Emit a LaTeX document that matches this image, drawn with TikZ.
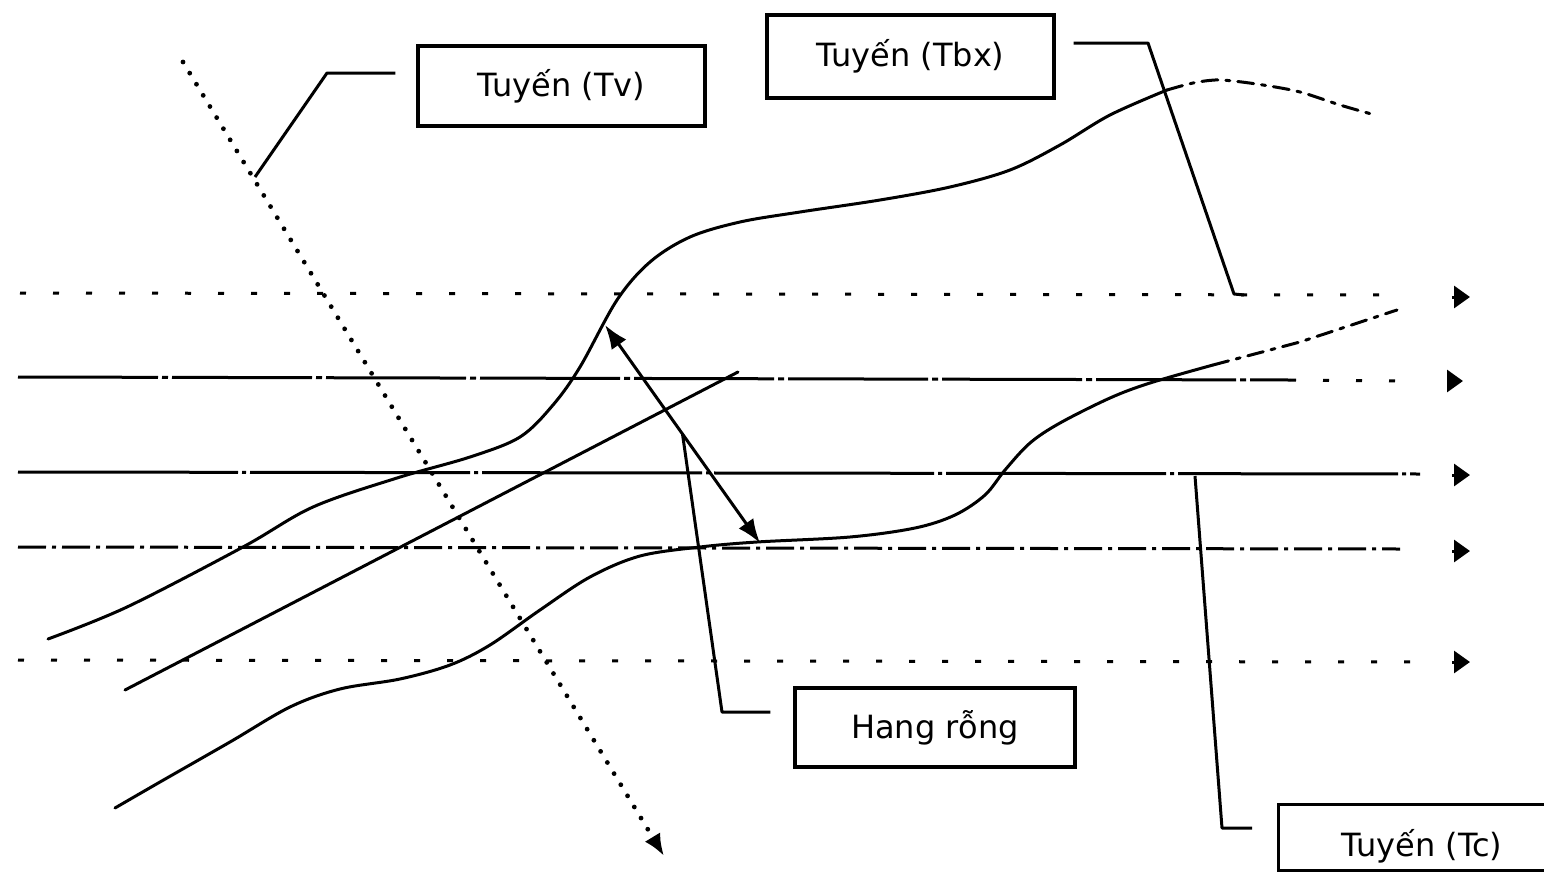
\documentclass[tikz,border=0pt]{standalone}
\usepackage{fontspec}
\setmainfont{DejaVu Sans}
\usetikzlibrary{arrows.meta,calc}
\begin{document}
\begin{tikzpicture}[x=0.5pt,y=-0.5pt,
  labelbox/.style={draw, line width=1.7pt, inner sep=0pt,
    font=\fontsize{16}{19}\selectfont},
  plain/.style={font=\fontsize{16}{19}\selectfont, inner sep=0pt},
  leader/.style={line width=1.5pt, line join=round},
  curve/.style={line width=1.5pt, line cap=round, line join=round},
  curvedash/.style={curve, dash pattern=on 8pt off 4pt on 2pt off 4pt},
  lvlsparse/.style={line width=1.5pt, dash pattern=on 3pt off 13.5pt},
  lvldense/.style={line width=1.5pt, dash pattern=on 70pt off 2pt on 3pt off 2pt},
  lvlsolid/.style={line width=1.5pt, dash pattern=on 110pt off 2pt on 2pt off 2pt},
  lvldashdot/.style={line width=1.5pt, dash pattern=on 14pt off 3pt on 2pt off 3pt},
  tipmark/.style={line width=1.5pt, -{Triangle[length=8pt,width=11pt]}},
  dotline/.style={line width=2.4pt, line cap=round, dash pattern=on 0pt off 6.5pt,
    -{Latex[length=11pt,width=9pt]}},
  span/.style={line width=1.5pt, {Latex[length=12pt,width=9pt]}-{Latex[length=12pt,width=9pt]}}
]
\useasboundingbox (0,0) rectangle (1544,873);
\clip (0,0) rectangle (1544,873);
\fill[white] (0,0) rectangle (1544,873);

% level lines
\draw[lvlsparse]  (20,293) -- (1385,295);
\draw[lvldense]   (18,377) -- (1290,380);
\draw[lvlsparse]  (1290,380) -- (1400,381);
\draw[lvlsolid]   (18,472) -- (1420,474);
\draw[lvldashdot] (18,547) -- (1400,549);
\draw[lvlsparse]  (18,660) -- (1420,662);

% end markers of the level lines
\draw[tipmark] (1452,297) -- (1470,297);
\draw[tipmark] (1450,381) -- (1463,381);
\draw[tipmark] (1452,475) -- (1470,475);
\draw[tipmark] (1452,551) -- (1470,551);
\draw[tipmark] (1452,662) -- (1470,662);

% upper curve
\draw[curve] plot[smooth, tension=0.55] coordinates {
  (48,639) (127,607) (243,547) (313,507) (397,478) (470,457) (520,437)
  (553,405) (580,367) (617,300) (650,262) (690,237) (740,222) (800,212)
  (880,200) (950,187) (1010,170) (1060,145) (1110,115) (1167,90)};
\draw[curvedash] plot[smooth, tension=0.55] coordinates {
  (1167,90) (1193,83) (1215,80) (1233,81) (1263,85) (1300,92) (1340,105) (1375,115)};

% middle straight line
\draw[curve] (125,690) -- (738,372);

% lower curve
\draw[curve] plot[smooth, tension=0.55] coordinates {
  (115,808) (160,782) (230,742) (290,707) (340,689) (400,679) (450,665)
  (490,645) (540,610) (590,577) (640,556) (700,547) (757,542) (850,537)
  (915,528) (955,515) (985,495) (1005,470) (1030,443) (1060,423)
  (1110,398) (1150,383) (1213,365)};
\draw[curvedash] (1213,365) -- (1300,342) -- (1397,310);

% dotted direction arrow
\coordinate (dstart) at (183,62);
\coordinate (dend) at (664,856);
\draw[dotline] (dstart) -- (dend);

% double arrow
\coordinate (a1) at (605,325);
\coordinate (a2) at (760,543);
\draw[span] (a1) -- (a2);

% labels
\node[labelbox, minimum width=143.5pt, minimum height=40pt] (tv) at (561.5,86) {Tuyến (Tv)};
\node[labelbox, minimum width=143.5pt, minimum height=41.5pt] (tbx) at (910.5,56.5) {Tuyến (Tbx)};
\node[labelbox, minimum width=140pt, minimum height=39.5pt] (hang) at (935,727.5) {Hang rỗng};
\node[draw, line width=1.7pt, minimum width=145pt, minimum height=33pt, anchor=north west] (tc) at (1277,803) {};
\node[plain] (tctext) at (1422,846) {Tuyến (Tc)};

% leader lines
\coordinate (tvbend) at (327,73);
\coordinate (tvfoot) at (255,177);
\draw[leader, shorten <=10.5pt] (tv.west |- tvbend) -- (tvbend) -- (tvfoot);

\coordinate (tbxbend) at (1148,43);
\coordinate (tbxfoot) at (1234,294);
\coordinate (tbxhook) at (1244,295);
\draw[leader, shorten <=9pt] (tbx.east |- tbxbend) -- (tbxbend) -- (tbxfoot) -- (tbxhook);

\coordinate (hbend) at (722,712);
\coordinate (hfoot) at ($(a1)!0.5!(a2)$);
\draw[leader, shorten <=11.5pt] (hang.west |- hbend) -- (hbend) -- (hfoot);

\coordinate (tcbend) at (1222,828);
\coordinate (tcfoot) at (1195,476);
\draw[leader, shorten <=12.5pt] (tc.west |- tcbend) -- (tcbend) -- (tcfoot);
\end{tikzpicture}
\end{document}
